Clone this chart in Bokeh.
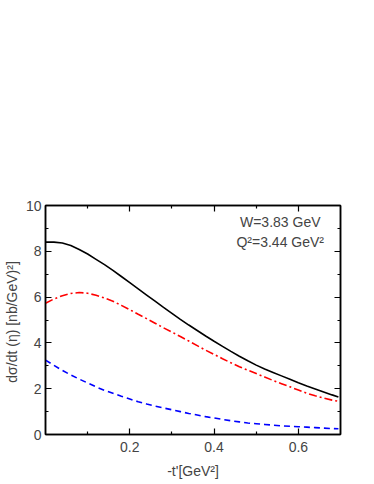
from bokeh.plotting import figure
from bokeh.models import FixedTicker, LinearAxis, Label, Range1d, CustomJSTickFormatter
from bokeh.embed import file_html
from bokeh.resources import INLINE

t_black = [0.0, 0.02, 0.04, 0.06, 0.08, 0.1, 0.12, 0.14, 0.16, 0.18, 0.2, 0.22, 0.24, 0.26, 0.28, 0.3,
           0.32, 0.34, 0.36, 0.38, 0.4, 0.42, 0.44, 0.46, 0.48, 0.5, 0.52, 0.54, 0.56, 0.58, 0.6,
           0.62, 0.64, 0.66, 0.68, 0.695]
y_black = [8.40, 8.40, 8.36, 8.25, 8.08, 7.88, 7.65, 7.42, 7.17, 6.90, 6.63, 6.36, 6.09, 5.82, 5.55, 5.29,
           5.03, 4.78, 4.54, 4.30, 4.07, 3.85, 3.63, 3.42, 3.22, 3.03, 2.86, 2.71, 2.56, 2.41, 2.26,
           2.12, 1.99, 1.86, 1.73, 1.64]

t_red = t_black
y_red = [5.73, 5.92, 6.06, 6.16, 6.20, 6.17, 6.08, 5.96, 5.82, 5.64, 5.45, 5.25, 5.06, 4.86, 4.66, 4.47,
         4.28, 4.08, 3.88, 3.68, 3.50, 3.31, 3.13, 2.96, 2.81, 2.66, 2.51, 2.36, 2.22, 2.08, 1.94,
         1.80, 1.69, 1.59, 1.50, 1.45]

t_blue = t_black
y_blue = [3.25, 3.02, 2.80, 2.60, 2.42, 2.25, 2.08, 1.93, 1.80, 1.67, 1.55, 1.43, 1.33, 1.24, 1.16, 1.08,
          1.00, 0.92, 0.85, 0.78, 0.72, 0.66, 0.60, 0.55, 0.50, 0.47, 0.44, 0.41, 0.38, 0.36, 0.34,
          0.32, 0.30, 0.28, 0.26, 0.25]

x_ticks = [0.2, 0.4, 0.6]
x_minor = [0.1, 0.3, 0.5]
y_ticks = [0, 2, 4, 6, 8, 10]
y_minor = [1, 3, 5, 7, 9]

FONT = "Liberation Sans"

p = figure(frame_width=295, frame_height=229, output_backend="svg", toolbar_location=None,
           x_range=Range1d(0, 0.7), y_range=Range1d(0, 10),
           min_border_left=36, min_border_right=20, min_border_top=205, min_border_bottom=40,
           x_axis_location=None, y_axis_location=None)
p.grid.visible = False
p.outline_line_color = "black"
p.outline_line_width = 1.5

blank = CustomJSTickFormatter(code="return '';")

def style(ax, labels):
    ax.major_tick_in = 6
    ax.major_tick_out = 0
    ax.minor_tick_in = 3
    ax.minor_tick_out = 0
    ax.axis_line_width = 1.5
    ax.major_tick_line_width = 1.2
    ax.minor_tick_line_width = 1.2
    ax.major_label_text_font = FONT
    ax.major_label_text_font_size = "14px"
    ax.axis_label_text_font = FONT
    ax.axis_label_text_font_style = "normal"
    if not labels:
        ax.formatter = blank
        ax.major_label_standoff = 0

xb = LinearAxis(ticker=FixedTicker(ticks=x_ticks, minor_ticks=x_minor), axis_label="-t'[GeV²]")
style(xb, True)
xb.axis_label_text_font_size = "14px"
xb.axis_label_standoff = 8
xb.major_label_standoff = 7
p.add_layout(xb, "below")

xt = LinearAxis(ticker=FixedTicker(ticks=x_ticks, minor_ticks=x_minor))
style(xt, False)
p.add_layout(xt, "above")

yl = LinearAxis(ticker=FixedTicker(ticks=y_ticks, minor_ticks=y_minor),
                axis_label="dσ/dt (η)  [nb/GeV)²]")
style(yl, True)
yl.axis_label_text_font_size = "14px"
yl.axis_label_standoff = 3
yl.major_label_standoff = 4
p.add_layout(yl, "left")

yr = LinearAxis(ticker=FixedTicker(ticks=y_ticks, minor_ticks=y_minor))
style(yr, False)
p.add_layout(yr, "right")

p.line(t_black, y_black, line_color="black", line_width=1.6)
p.line(t_red, y_red, line_color="red", line_width=1.6, line_dash="8 3 2 3")
p.line(t_blue, y_blue, line_color="blue", line_width=1.6, line_dash="6 4")

p.add_layout(Label(x=0.557, y=9.28, text="W=3.83 GeV", text_align="center", text_font=FONT,
                   text_font_size="14px", text_baseline="middle"))
p.add_layout(Label(x=0.557, y=8.4, text="Q²=3.44 GeV²", text_align="center", text_font=FONT,
                   text_font_size="14px", text_baseline="middle"))

open("out.html", "w").write(file_html(p, INLINE))
